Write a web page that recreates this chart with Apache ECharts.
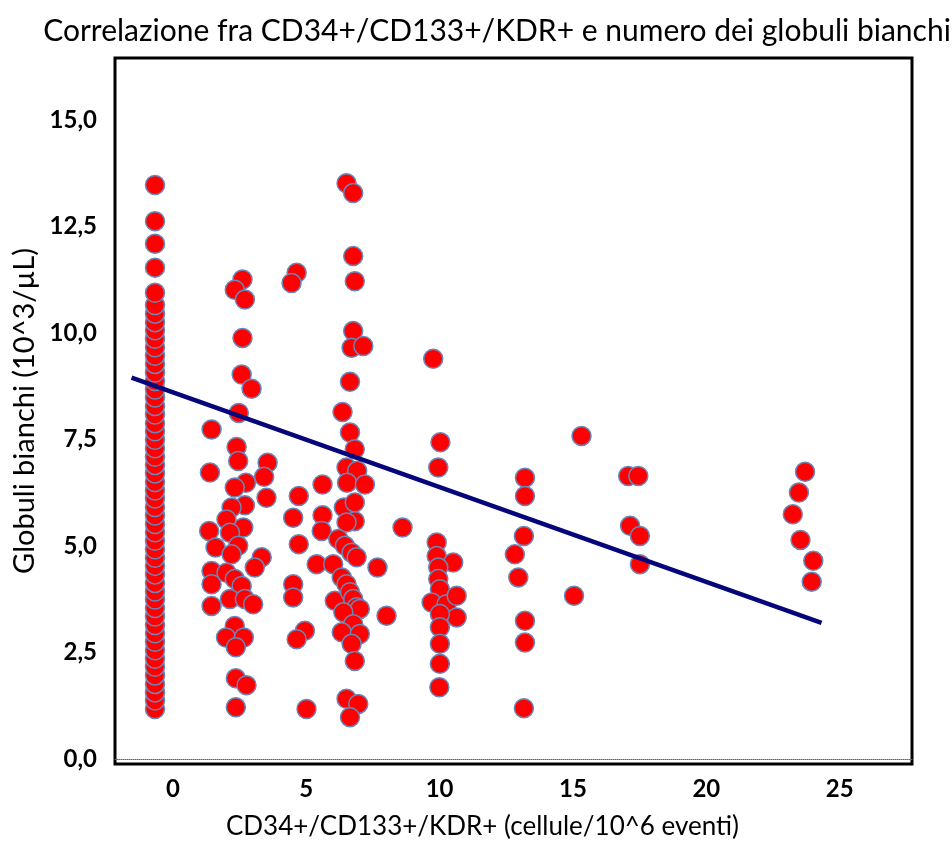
<!DOCTYPE html>
<html><head><meta charset="utf-8">
<script src="https://cdn.jsdelivr.net/npm/echarts@6/dist/echarts.min.js"></script>
<style>html,body{margin:0;padding:0;background:#fff}#c{width:952px;height:845px}</style>
</head><body><div id="c"></div>
<script>
const titleText = 'Correlazione fra CD34+/CD133+/KDR+ e numero dei globuli bianchi';
const xName = 'CD34+/CD133+/KDR+ (cellule/10^6 eventi)';
const yName = 'Globuli bianchi (10^3/µL)';
const xTicks = [0, 5, 10, 15, 20, 25];
const yTicks = [0, 2.5, 5, 7.5, 10, 12.5, 15];

// column of zero values (drawn slightly left of the 0 tick in the original)
const zeroColumnX = -0.67;
const zeroColumnY = [1.17, 1.37, 1.56, 1.76, 1.96, 2.16, 2.35, 2.55, 2.75, 2.95,
  3.14, 3.34, 3.54, 3.74, 3.93, 4.13, 4.33, 4.53, 4.72, 4.92,
  5.12, 5.32, 5.51, 5.71, 5.91, 6.11, 6.30, 6.50, 6.70, 6.90,
  7.09, 7.29, 7.49, 7.69, 7.88, 8.08, 8.28, 8.48, 8.67, 8.87,
  9.07, 9.27, 9.46, 9.66, 9.86, 10.06, 10.25, 10.45, 10.65, 10.94,
  11.53, 12.09, 12.62, 13.47];

const clusterNear2 = [
  [2.61, 11.25], [2.32, 11.01], [2.70, 10.78], [2.61, 9.88], [2.58, 9.02], [2.95, 8.69],
  [2.47, 8.12], [1.45, 7.73], [2.39, 7.32], [2.45, 6.99], [3.55, 6.95], [1.39, 6.72],
  [3.42, 6.62], [2.74, 6.48], [2.32, 6.37], [3.51, 6.13], [2.70, 5.95], [2.20, 5.90],
  [2.01, 5.62], [2.64, 5.43], [2.14, 5.31], [1.36, 5.35], [2.45, 5.00], [1.60, 4.96],
  [2.20, 4.80], [1.45, 4.41], [2.01, 4.37], [1.45, 4.10], [2.32, 4.22], [2.58, 4.06],
  [3.33, 4.73], [3.07, 4.49], [2.14, 3.75], [2.70, 3.75], [3.01, 3.63], [1.45, 3.59],
  [2.32, 3.12], [1.99, 2.85], [2.66, 2.85], [2.36, 2.62], [2.36, 1.89], [2.76, 1.73],
  [2.36, 1.21]
];
const clusterNear5 = [
  [4.64, 11.41], [4.45, 11.17], [4.72, 6.17], [5.61, 6.44], [4.51, 5.66], [5.61, 5.72],
  [5.58, 5.35], [4.72, 5.04], [4.51, 4.10], [4.51, 3.79], [4.95, 3.01], [4.64, 2.81],
  [5.01, 1.17], [5.39, 4.57]
];
const clusterNear7 = [
  [6.51, 13.51], [6.76, 13.28], [6.76, 11.80], [6.82, 11.21], [6.76, 10.04], [6.70, 9.65],
  [7.14, 9.69], [6.64, 8.85], [6.36, 8.14], [6.64, 7.66], [6.82, 7.27], [6.51, 6.84],
  [6.91, 6.76], [6.53, 6.48], [7.20, 6.44], [6.41, 5.90], [6.82, 6.02], [6.82, 5.58],
  [6.51, 5.55], [6.01, 4.57], [6.20, 5.16], [6.45, 5.00], [6.70, 4.84], [6.89, 4.73],
  [6.07, 3.71], [6.33, 4.26], [6.51, 4.10], [6.64, 3.91], [6.76, 3.75], [6.89, 3.56],
  [7.01, 3.52], [6.39, 3.44], [6.76, 3.16], [6.33, 2.97], [7.01, 2.93], [6.70, 2.70],
  [6.82, 2.30], [6.51, 1.41], [6.95, 1.29], [6.64, 0.98]
];
const clusterNear10 = [
  [7.67, 4.49], [8.01, 3.36], [8.61, 5.43], [9.76, 9.39], [10.03, 7.43], [9.95, 6.84],
  [9.89, 5.08], [9.89, 4.76], [10.51, 4.61], [9.95, 4.49], [9.95, 4.22], [10.01, 3.98],
  [9.70, 3.67], [10.26, 3.63], [10.64, 3.83], [10.64, 3.32], [10.01, 3.40], [10.01, 3.09],
  [10.01, 2.70], [10.01, 2.23], [9.99, 1.68]
];
const clusterHigh = [
  [13.20, 6.60], [13.20, 6.17], [13.16, 5.23], [12.82, 4.80], [12.95, 4.26], [13.20, 3.24],
  [13.20, 2.73], [13.16, 1.19], [15.32, 7.58], [15.04, 3.83], [17.07, 6.64], [17.45, 6.64],
  [17.14, 5.47], [17.51, 5.23], [17.51, 4.57], [23.70, 6.74], [23.47, 6.25], [23.24, 5.74],
  [23.53, 5.14], [24.01, 4.65], [23.95, 4.16]
];
const regressionLine = [[-1.55, 8.95], [24.32, 3.19]];

const scatterData = zeroColumnY.map(y => [zeroColumnX, y])
  .concat(clusterNear2, clusterNear5, clusterNear7, clusterNear10, clusterHigh);

const FONT = 'Lato';
const chart = echarts.init(document.getElementById('c'), null, {renderer: 'canvas'});
chart.setOption({
  backgroundColor: '#ffffff',
  animation: false,
  title: {
    text: titleText, left: 492, top: 11, textAlign: 'center',
    textStyle: {fontFamily: FONT, fontSize: 30, fontWeight: 'normal', color: '#000'}
  },
  grid: {left: 115, right: 40, top: 58, bottom: 80, containLabel: false,
    show: true, borderColor: '#000', borderWidth: 3, backgroundColor: '#fff'},
  xAxis: {
    type: 'value', min: -2.17, max: 27.71, offset: 4,
    name: xName, nameLocation: 'middle', nameGap: 46,
    nameTextStyle: {fontFamily: FONT, fontSize: 26, color: '#000', padding: [0, 62, 0, 0]},
    axisLine: {show: true, lineStyle: {color: '#666', width: 1, type: 'dotted'}},
    axisTick: {show: false},
    splitLine: {show: false},
    axisLabel: {customValues: xTicks, margin: 9, fontFamily: FONT, fontSize: 24, fontWeight: 'bold', color: '#000',
      formatter: v => String(v)}
  },
  yAxis: {
    type: 'value', min: -0.12, max: 16.45,
    name: yName, nameLocation: 'middle', nameGap: 74, nameRotate: 90,
    nameTextStyle: {fontFamily: FONT, fontSize: 29, color: '#000'},
    axisLine: {show: false},
    axisTick: {show: false},
    splitLine: {show: false},
    axisLabel: {customValues: yTicks, margin: 18, fontFamily: FONT, fontSize: 24, fontWeight: 'bold', color: '#000',
      formatter: v => v.toFixed(1).replace('.', ',')}
  },
  series: [
    {
      type: 'scatter', data: scatterData, symbol: 'circle', symbolSize: 19,
      itemStyle: {color: '#ff0000', borderColor: '#6b86b8', borderWidth: 1.5, opacity: 1},
      z: 2
    },
    {
      type: 'line', data: regressionLine, symbol: 'none',
      lineStyle: {color: '#06067a', width: 4.5}, z: 3
    }
  ]
});
</script></body></html>
